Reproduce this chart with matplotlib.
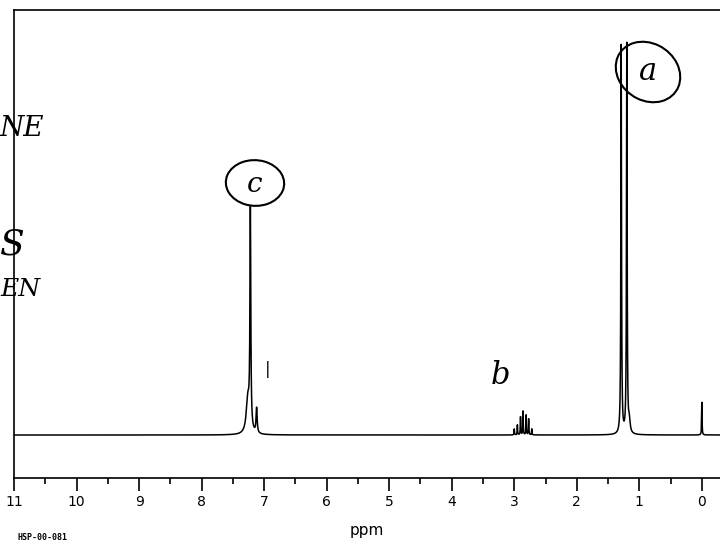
import numpy as np
import matplotlib.pyplot as plt
from matplotlib.patches import Ellipse

# peak list: position (ppm), height, half-width (ppm)
peak_ppm = [7.26, 7.22, 7.12, 3.00, 2.95, 2.90, 2.86, 2.81, 2.77, 2.72,
            1.29, 1.20, 1.16, 0.0]
peak_height = [35, 216, 25, 6, 10, 18, 24, 20, 16, 6,
               390, 390, 12, 33]
peak_width = [0.03, 0.008, 0.01, 0.004, 0.004, 0.004, 0.004, 0.004, 0.004, 0.004,
              0.006, 0.006, 0.015, 0.004]

ppm = np.linspace(-0.3, 11, 12000)
signal = np.zeros_like(ppm)
for p, h, w in zip(peak_ppm, peak_height, peak_width):
    signal += h * w**2 / ((ppm - p)**2 + w**2)

fig = plt.figure(figsize=(7.2, 5.53), dpi=100)
ax = fig.add_axes([14/720, 1 - 478/553, 706/720, 468/553])

ax.plot(ppm, signal, color='black', lw=1.1)
ax.set_xlim(11, -0.29)
ax.set_ylim(-43, 425)

ax.spines['right'].set_visible(False)
for s in ['left', 'top', 'bottom']:
    ax.spines[s].set_linewidth(1.2)
ax.set_yticks([])
ax.set_xticks(range(0, 12))
ax.set_xticks(np.arange(0.5, 11, 1.0), minor=True)
ax.tick_params(axis='x', which='major', direction='out', length=9, width=1.2,
               labelsize=10, pad=3)
ax.tick_params(axis='x', which='minor', direction='out', length=4, width=1.2)
ax.set_xlabel('ppm', fontsize=11, labelpad=10)

# handwritten marks on the scan
hand = dict(color='black', style='italic', family='DejaVu Serif')
fig.text(255/720, 1 - 185/553, 'c', fontsize=20, ha='center', va='center', **hand)
fig.add_artist(Ellipse((255/720, 1 - 183/553), 58/720, 46/553, angle=25,
                       transform=fig.transFigure, fill=False, lw=1.5, color='black'))
fig.text(648/720, 1 - 72/553, 'a', fontsize=22, ha='center', va='center', **hand)
fig.add_artist(Ellipse((648/720, 1 - 72/553), 62/720, 62/553, angle=20,
                       transform=fig.transFigure, fill=False, lw=1.5, color='black'))
fig.text(500/720, 1 - 375/553, 'b', fontsize=22, ha='center', va='center', **hand)
fig.text(268/720, 1 - 370/553, '|', fontsize=12, ha='center', va='center', **hand)
fig.text(0, 1 - 128/553, 'NE', fontsize=20, ha='left', va='center', **hand)
fig.text(0, 1 - 245/553, 'S', fontsize=26, ha='left', va='center', **hand)
fig.text(0, 1 - 290/553, 'EN', fontsize=18, ha='left', va='center', **hand)

fig.text(18/720, 1 - 538/553, 'HSP-00-081', fontsize=6, family='DejaVu Sans Mono',
         weight='bold', ha='left', va='center')

fig.savefig('out.png', dpi=100)
